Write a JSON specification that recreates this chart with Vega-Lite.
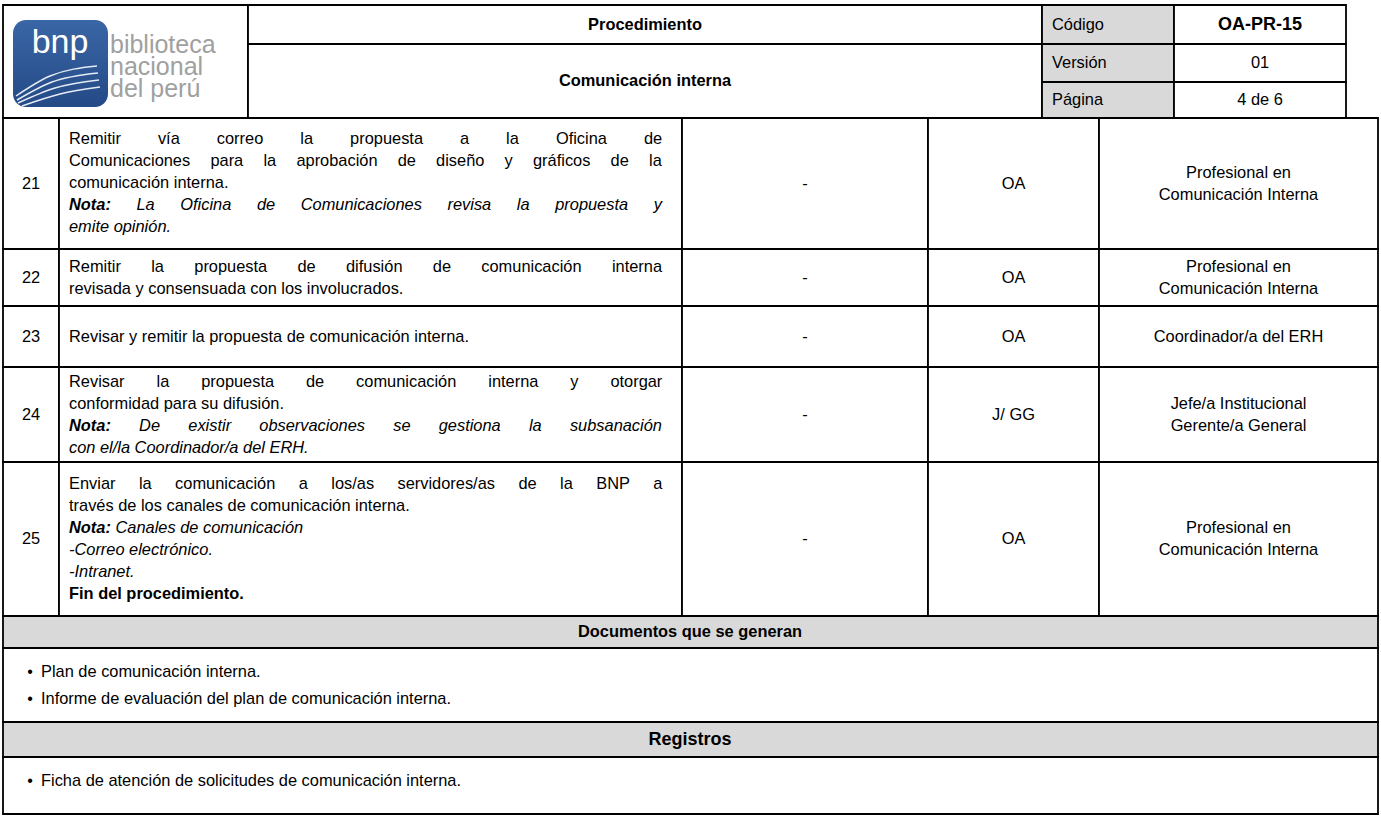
{
  "$schema": "https://vega.github.io/schema/vega-lite/v6.json",
  "width": 1381,
  "height": 816,
  "padding": 0,
  "autosize": {"type": "fit", "contains": "padding"},
  "background": "#ffffff",
  "config": {"view": {"stroke": null}, "text": {"font": "Liberation Sans", "fontSize": 16.4, "color": "#000000", "baseline": "middle"}},
  "datasets": {
    "cells": [
      {"x": 3, "x2": 248, "y": 5, "y2": 118, "shade": "w"},
      {"x": 248, "x2": 1042, "y": 5, "y2": 44, "shade": "w"},
      {"x": 248, "x2": 1042, "y": 44, "y2": 118, "shade": "w"},
      {"x": 1042, "x2": 1174, "y": 5, "y2": 44, "shade": "g"},
      {"x": 1174, "x2": 1346, "y": 5, "y2": 44, "shade": "w"},
      {"x": 1042, "x2": 1174, "y": 44, "y2": 82, "shade": "g"},
      {"x": 1174, "x2": 1346, "y": 44, "y2": 82, "shade": "w"},
      {"x": 1042, "x2": 1174, "y": 82, "y2": 118, "shade": "g"},
      {"x": 1174, "x2": 1346, "y": 82, "y2": 118, "shade": "w"},
      {"x": 3, "x2": 59, "y": 118, "y2": 249, "shade": "w"},
      {"x": 59, "x2": 682, "y": 118, "y2": 249, "shade": "w"},
      {"x": 682, "x2": 928, "y": 118, "y2": 249, "shade": "w"},
      {"x": 928, "x2": 1099, "y": 118, "y2": 249, "shade": "w"},
      {"x": 1099, "x2": 1378, "y": 118, "y2": 249, "shade": "w"},
      {"x": 3, "x2": 59, "y": 249, "y2": 306, "shade": "w"},
      {"x": 59, "x2": 682, "y": 249, "y2": 306, "shade": "w"},
      {"x": 682, "x2": 928, "y": 249, "y2": 306, "shade": "w"},
      {"x": 928, "x2": 1099, "y": 249, "y2": 306, "shade": "w"},
      {"x": 1099, "x2": 1378, "y": 249, "y2": 306, "shade": "w"},
      {"x": 3, "x2": 59, "y": 306, "y2": 367, "shade": "w"},
      {"x": 59, "x2": 682, "y": 306, "y2": 367, "shade": "w"},
      {"x": 682, "x2": 928, "y": 306, "y2": 367, "shade": "w"},
      {"x": 928, "x2": 1099, "y": 306, "y2": 367, "shade": "w"},
      {"x": 1099, "x2": 1378, "y": 306, "y2": 367, "shade": "w"},
      {"x": 3, "x2": 59, "y": 367, "y2": 462, "shade": "w"},
      {"x": 59, "x2": 682, "y": 367, "y2": 462, "shade": "w"},
      {"x": 682, "x2": 928, "y": 367, "y2": 462, "shade": "w"},
      {"x": 928, "x2": 1099, "y": 367, "y2": 462, "shade": "w"},
      {"x": 1099, "x2": 1378, "y": 367, "y2": 462, "shade": "w"},
      {"x": 3, "x2": 59, "y": 462, "y2": 616, "shade": "w"},
      {"x": 59, "x2": 682, "y": 462, "y2": 616, "shade": "w"},
      {"x": 682, "x2": 928, "y": 462, "y2": 616, "shade": "w"},
      {"x": 928, "x2": 1099, "y": 462, "y2": 616, "shade": "w"},
      {"x": 1099, "x2": 1378, "y": 462, "y2": 616, "shade": "w"},
      {"x": 3, "x2": 1378, "y": 616, "y2": 648, "shade": "g"},
      {"x": 3, "x2": 1378, "y": 648, "y2": 722, "shade": "w"},
      {"x": 3, "x2": 1378, "y": 722, "y2": 757, "shade": "g"},
      {"x": 3, "x2": 1378, "y": 757, "y2": 814, "shade": "w"}
    ],
    "texts": [
      {"x": 645, "y": 24.5, "text": "Procedimiento", "s": "cb"},
      {"x": 645, "y": 81, "text": "Comunicación interna", "s": "cb"},
      {"x": 1052, "y": 25, "text": "Código", "s": "n"},
      {"x": 1052, "y": 63, "text": "Versión", "s": "n"},
      {"x": 1052, "y": 100, "text": "Página", "s": "n"},
      {"x": 1260, "y": 25, "text": "OA-PR-15", "s": "cbb"},
      {"x": 1260, "y": 63, "text": "01", "s": "c"},
      {"x": 1260, "y": 100, "text": "4 de 6", "s": "c"},
      {"x": 31, "y": 183.5, "text": "21", "s": "c"},
      {"x": 31, "y": 277.5, "text": "22", "s": "c"},
      {"x": 31, "y": 336.5, "text": "23", "s": "c"},
      {"x": 31, "y": 414.5, "text": "24", "s": "c"},
      {"x": 31, "y": 539, "text": "25", "s": "c"},
      {"x": 805, "y": 183.5, "text": "-", "s": "c"},
      {"x": 805, "y": 277.5, "text": "-", "s": "c"},
      {"x": 805, "y": 336.5, "text": "-", "s": "c"},
      {"x": 805, "y": 414.5, "text": "-", "s": "c"},
      {"x": 805, "y": 539, "text": "-", "s": "c"},
      {"x": 1013.5, "y": 183.5, "text": "OA", "s": "c"},
      {"x": 1013.5, "y": 277.5, "text": "OA", "s": "c"},
      {"x": 1013.5, "y": 336.5, "text": "OA", "s": "c"},
      {"x": 1013.5, "y": 414.5, "text": "J/ GG", "s": "c"},
      {"x": 1013.5, "y": 539, "text": "OA", "s": "c"},
      {"x": 1238.5, "y": 172.5, "text": "Profesional en", "s": "c"},
      {"x": 1238.5, "y": 194.5, "text": "Comunicación Interna", "s": "c"},
      {"x": 1238.5, "y": 266.5, "text": "Profesional en", "s": "c"},
      {"x": 1238.5, "y": 288.5, "text": "Comunicación Interna", "s": "c"},
      {"x": 1238.5, "y": 336.5, "text": "Coordinador/a del ERH", "s": "c"},
      {"x": 1238.5, "y": 403.5, "text": "Jefe/a Institucional", "s": "c"},
      {"x": 1238.5, "y": 425.5, "text": "Gerente/a General", "s": "c"},
      {"x": 1238.5, "y": 528, "text": "Profesional en", "s": "c"},
      {"x": 1238.5, "y": 550, "text": "Comunicación Interna", "s": "c"},

      {"x": 69, "y": 139, "text": "Remitir", "s": "n"},
      {"x": 157.9, "y": 139, "text": "vía", "s": "n"},
      {"x": 216.8, "y": 139, "text": "correo", "s": "n"},
      {"x": 300.3, "y": 139, "text": "la", "s": "n"},
      {"x": 350.1, "y": 139, "text": "propuesta", "s": "n"},
      {"x": 460, "y": 139, "text": "a", "s": "n"},
      {"x": 506.1, "y": 139, "text": "la", "s": "n"},
      {"x": 555.9, "y": 139, "text": "Oficina", "s": "n"},
      {"x": 643.9, "y": 139, "text": "de", "s": "n"},
      {"x": 69, "y": 161, "text": "Comunicaciones", "s": "n"},
      {"x": 210.4, "y": 161, "text": "para", "s": "n"},
      {"x": 263.4, "y": 161, "text": "la", "s": "n"},
      {"x": 296.4, "y": 161, "text": "aprobación", "s": "n"},
      {"x": 397.7, "y": 161, "text": "de", "s": "n"},
      {"x": 436.1, "y": 161, "text": "diseño", "s": "n"},
      {"x": 504.6, "y": 161, "text": "y", "s": "n"},
      {"x": 533, "y": 161, "text": "gráficos", "s": "n"},
      {"x": 610.6, "y": 161, "text": "de", "s": "n"},
      {"x": 649, "y": 161, "text": "la", "s": "n"},
      {"x": 69, "y": 183, "text": "comunicación interna.", "s": "n"},
      {"x": 69, "y": 205, "text": "Nota:", "s": "nb"},
      {"x": 136.5, "y": 205, "text": "La", "s": "i"},
      {"x": 180.3, "y": 205, "text": "Oficina", "s": "i"},
      {"x": 256.9, "y": 205, "text": "de", "s": "i"},
      {"x": 300.7, "y": 205, "text": "Comunicaciones", "s": "i"},
      {"x": 447.5, "y": 205, "text": "revisa", "s": "i"},
      {"x": 516.8, "y": 205, "text": "la", "s": "i"},
      {"x": 555.2, "y": 205, "text": "propuesta", "s": "i"},
      {"x": 653.7, "y": 205, "text": "y", "s": "i"},
      {"x": 69, "y": 227, "text": "emite opinión.", "s": "i"},

      {"x": 69, "y": 266.5, "text": "Remitir", "s": "n"},
      {"x": 151.2, "y": 266.5, "text": "la", "s": "n"},
      {"x": 194.3, "y": 266.5, "text": "propuesta", "s": "n"},
      {"x": 297.5, "y": 266.5, "text": "de", "s": "n"},
      {"x": 346, "y": 266.5, "text": "difusión", "s": "n"},
      {"x": 432.8, "y": 266.5, "text": "de", "s": "n"},
      {"x": 481.3, "y": 266.5, "text": "comunicación", "s": "n"},
      {"x": 611.9, "y": 266.5, "text": "interna", "s": "n"},
      {"x": 69, "y": 288.5, "text": "revisada y consensuada con los involucrados.", "s": "n"},

      {"x": 69, "y": 336.5, "text": "Revisar y remitir la propuesta de comunicación interna.", "s": "n"},

      {"x": 69, "y": 381.5, "text": "Revisar", "s": "n"},
      {"x": 156.5, "y": 381.5, "text": "la", "s": "n"},
      {"x": 201.2, "y": 381.5, "text": "propuesta", "s": "n"},
      {"x": 306, "y": 381.5, "text": "de", "s": "n"},
      {"x": 356.1, "y": 381.5, "text": "comunicación", "s": "n"},
      {"x": 488.3, "y": 381.5, "text": "interna", "s": "n"},
      {"x": 570.3, "y": 381.5, "text": "y", "s": "n"},
      {"x": 610.4, "y": 381.5, "text": "otorgar", "s": "n"},
      {"x": 69, "y": 403.5, "text": "conformidad para su difusión.", "s": "n"},
      {"x": 69, "y": 425.5, "text": "Nota:", "s": "nb"},
      {"x": 139.1, "y": 425.5, "text": "De", "s": "i"},
      {"x": 188.3, "y": 425.5, "text": "existir", "s": "i"},
      {"x": 259.3, "y": 425.5, "text": "observaciones", "s": "i"},
      {"x": 393.2, "y": 425.5, "text": "se", "s": "i"},
      {"x": 438.7, "y": 425.5, "text": "gestiona", "s": "i"},
      {"x": 528.9, "y": 425.5, "text": "la", "s": "i"},
      {"x": 569.9, "y": 425.5, "text": "subsanación", "s": "i"},
      {"x": 69, "y": 447.5, "text": "con el/la Coordinador/a del ERH.", "s": "i"},

      {"x": 69, "y": 484, "text": "Enviar", "s": "n"},
      {"x": 138.9, "y": 484, "text": "la", "s": "n"},
      {"x": 175.1, "y": 484, "text": "comunicación", "s": "n"},
      {"x": 298.8, "y": 484, "text": "a", "s": "n"},
      {"x": 331.3, "y": 484, "text": "los/as", "s": "n"},
      {"x": 397.5, "y": 484, "text": "servidores/as", "s": "n"},
      {"x": 518.4, "y": 484, "text": "de", "s": "n"},
      {"x": 560, "y": 484, "text": "la", "s": "n"},
      {"x": 596.2, "y": 484, "text": "BNP", "s": "n"},
      {"x": 653.3, "y": 484, "text": "a", "s": "n"},
      {"x": 69, "y": 506, "text": "través de los canales de comunicación interna.", "s": "n"},
      {"x": 69, "y": 528, "text": "Nota:", "s": "nb"},
      {"x": 115.5, "y": 528, "text": "Canales de comunicación", "s": "i"},
      {"x": 69, "y": 550, "text": "-Correo electrónico.", "s": "i"},
      {"x": 69, "y": 572, "text": "-Intranet.", "s": "i"},
      {"x": 69, "y": 594, "text": "Fin del procedimiento.", "s": "b"},

      {"x": 690, "y": 632, "text": "Documentos que se generan", "s": "cb"},
      {"x": 30, "y": 672, "text": "•", "s": "bul"},
      {"x": 41, "y": 672, "text": "Plan de comunicación interna.", "s": "n"},
      {"x": 30, "y": 699, "text": "•", "s": "bul"},
      {"x": 41, "y": 699, "text": "Informe de evaluación del plan de comunicación interna.", "s": "n"},
      {"x": 690, "y": 739.5, "text": "Registros", "s": "cbb"},
      {"x": 30, "y": 781, "text": "•", "s": "bul"},
      {"x": 41, "y": 781, "text": "Ficha de atención de solicitudes de comunicación interna.", "s": "n"}
    ],
    "logo": [
      {"x": 13, "x2": 108, "y": 20, "y2": 107}
    ],
    "logotext": [
      {"x": 60, "y": 53, "text": "bnp", "s": "mark"},
      {"x": 110, "y": 53, "text": "biblioteca", "s": "word"},
      {"x": 110, "y": 75, "text": "nacional", "s": "word"},
      {"x": 110, "y": 97, "text": "del perú", "s": "word"}
    ],
    "swoosh": [
      {"c": "a", "o": 1, "x": 16, "y": 96},
      {"c": "a", "o": 2, "x": 50, "y": 76},
      {"c": "a", "o": 3, "x": 97, "y": 66},
      {"c": "b", "o": 1, "x": 17, "y": 100},
      {"c": "b", "o": 2, "x": 52, "y": 82},
      {"c": "b", "o": 3, "x": 98, "y": 73},
      {"c": "c", "o": 1, "x": 18, "y": 103},
      {"c": "c", "o": 2, "x": 55, "y": 88},
      {"c": "c", "o": 3, "x": 99, "y": 80},
      {"c": "d", "o": 1, "x": 22, "y": 106},
      {"c": "d", "o": 2, "x": 60, "y": 94},
      {"c": "d", "o": 3, "x": 100, "y": 87}
    ]
  },
  "layer": [
    {
      "data": {"name": "cells"},
      "mark": {"type": "rect", "stroke": "#000000", "strokeWidth": 1.8},
      "encoding": {
        "x": {"field": "x", "type": "quantitative", "scale": {"domain": [0, 1381], "nice": false, "zero": false}, "axis": null},
        "x2": {"field": "x2"},
        "y": {"field": "y", "type": "quantitative", "scale": {"domain": [0, 816], "nice": false, "zero": false, "reverse": true}, "axis": null},
        "y2": {"field": "y2"},
        "fill": {"field": "shade", "type": "nominal", "scale": {"domain": ["w", "g"], "range": ["#ffffff", "#d9d9d9"]}, "legend": null}
      }
    },
    {
      "data": {"name": "logo"},
      "mark": {"type": "rect", "cornerRadius": 13, "fill": {"gradient": "linear", "x1": 0, "y1": 0, "x2": 0, "y2": 1, "stops": [{"offset": 0, "color": "#3a66a6"}, {"offset": 1, "color": "#244a86"}]}},
      "encoding": {
        "x": {"field": "x", "type": "quantitative"},
        "x2": {"field": "x2"},
        "y": {"field": "y", "type": "quantitative"},
        "y2": {"field": "y2"}
      }
    },
    {
      "data": {"name": "swoosh"},
      "mark": {"type": "line", "color": "#e4ebf5", "strokeWidth": 1.5, "interpolate": "monotone"},
      "encoding": {
        "x": {"field": "x", "type": "quantitative"},
        "y": {"field": "y", "type": "quantitative"},
        "detail": {"field": "c"},
        "order": {"field": "o"}
      }
    },
    {
      "data": {"name": "logotext"},
      "transform": [{"filter": "datum.s === 'mark'"}],
      "mark": {"type": "text", "align": "center", "baseline": "alphabetic", "fontSize": 34, "color": "#ffffff", "font": "Liberation Sans"},
      "encoding": {"x": {"field": "x", "type": "quantitative"}, "y": {"field": "y", "type": "quantitative"}, "text": {"field": "text"}}
    },
    {
      "data": {"name": "logotext"},
      "transform": [{"filter": "datum.s === 'word'"}],
      "mark": {"type": "text", "align": "left", "baseline": "alphabetic", "fontSize": 25, "color": "#a0a0a0", "font": "Liberation Sans"},
      "encoding": {"x": {"field": "x", "type": "quantitative"}, "y": {"field": "y", "type": "quantitative"}, "text": {"field": "text"}}
    },
    {
      "data": {"name": "texts"},
      "transform": [{"filter": "datum.s === 'n'"}],
      "mark": {"type": "text", "align": "left"},
      "encoding": {"x": {"field": "x", "type": "quantitative"}, "y": {"field": "y", "type": "quantitative"}, "text": {"field": "text"}}
    },
    {
      "data": {"name": "texts"},
      "transform": [{"filter": "datum.s === 'i'"}],
      "mark": {"type": "text", "align": "left", "fontStyle": "italic"},
      "encoding": {"x": {"field": "x", "type": "quantitative"}, "y": {"field": "y", "type": "quantitative"}, "text": {"field": "text"}}
    },
    {
      "data": {"name": "texts"},
      "transform": [{"filter": "datum.s === 'b'"}],
      "mark": {"type": "text", "align": "left", "fontWeight": "bold"},
      "encoding": {"x": {"field": "x", "type": "quantitative"}, "y": {"field": "y", "type": "quantitative"}, "text": {"field": "text"}}
    },
    {
      "data": {"name": "texts"},
      "transform": [{"filter": "datum.s === 'nb'"}],
      "mark": {"type": "text", "align": "left", "fontWeight": "bold", "fontStyle": "italic"},
      "encoding": {"x": {"field": "x", "type": "quantitative"}, "y": {"field": "y", "type": "quantitative"}, "text": {"field": "text"}}
    },
    {
      "data": {"name": "texts"},
      "transform": [{"filter": "datum.s === 'c'"}],
      "mark": {"type": "text", "align": "center"},
      "encoding": {"x": {"field": "x", "type": "quantitative"}, "y": {"field": "y", "type": "quantitative"}, "text": {"field": "text"}}
    },
    {
      "data": {"name": "texts"},
      "transform": [{"filter": "datum.s === 'cb'"}],
      "mark": {"type": "text", "align": "center", "fontWeight": "bold"},
      "encoding": {"x": {"field": "x", "type": "quantitative"}, "y": {"field": "y", "type": "quantitative"}, "text": {"field": "text"}}
    },
    {
      "data": {"name": "texts"},
      "transform": [{"filter": "datum.s === 'cbb'"}],
      "mark": {"type": "text", "align": "center", "fontWeight": "bold", "fontSize": 18},
      "encoding": {"x": {"field": "x", "type": "quantitative"}, "y": {"field": "y", "type": "quantitative"}, "text": {"field": "text"}}
    },
    {
      "data": {"name": "texts"},
      "transform": [{"filter": "datum.s === 'bul'"}],
      "mark": {"type": "text", "align": "center", "fontSize": 16},
      "encoding": {"x": {"field": "x", "type": "quantitative"}, "y": {"field": "y", "type": "quantitative"}, "text": {"field": "text"}}
    }
  ]
}
